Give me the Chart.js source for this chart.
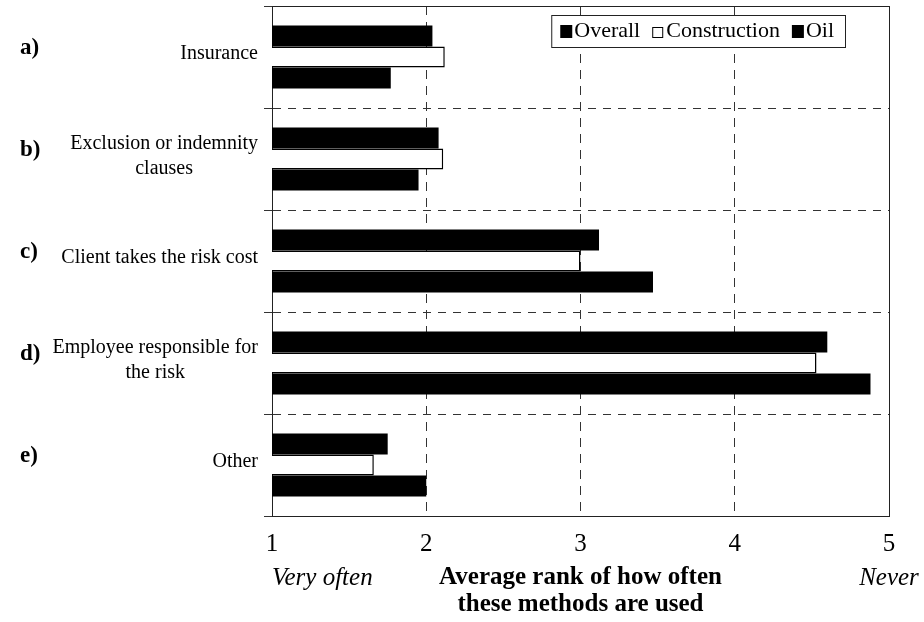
<!DOCTYPE html>
<html>
<head>
<meta charset="utf-8">
<title>Risk transfer methods</title>
<script src="https://cdn.jsdelivr.net/npm/chart.js@4.4.1/dist/chart.umd.min.js"></script>
<style>
    body { margin: 0; background: #fff; }
    #wrap { width: 924px; height: 622px; position: relative; }
</style>
</head>
<body>
<div id="wrap"><canvas id="rankChart"></canvas></div>
<script>
const letters = ['a)', 'b)', 'c)', 'd)', 'e)'];
const categories = [
    ['Insurance'],
    ['Exclusion or indemnity', 'clauses'],
    ['Client takes the risk cost'],
    ['Employee responsible for', 'the risk'],
    ['Other']
];
const overall = [2.04, 2.08, 3.12, 4.60, 1.75];
const construction = [2.12, 2.11, 3.00, 4.53, 1.66];
const oil = [1.77, 1.95, 3.47, 4.88, 2.00];
const seriesNames = ['Overall', 'Construction', 'Oil'];
const rankTicks = [1, 2, 3, 4, 5];
const endLabels = ['Very often', 'Never'];
const axisTitle = ['Average rank of how often', 'these methods are used'];

const serif = "'Liberation Serif', 'DejaVu Serif', serif";
Chart.defaults.font.family = serif;
Chart.defaults.color = '#000';

// category labels with their a) .. e) markers, multi-line labels centred on themselves
const sideLabels = {
    id: 'sideLabels',
    afterDraw(chart) {
        const ctx = chart.ctx;
        const y = chart.scales.y;
        const right = chart.chartArea.left - 14;
        ctx.save();
        ctx.fillStyle = '#000';
        ctx.textBaseline = 'middle';
        categories.forEach((lines, i) => {
            const cy = y.getPixelForValue(i);
            ctx.font = '20px ' + serif;
            const w = Math.max(...lines.map(l => ctx.measureText(l).width));
            const lh = 25;
            const top = cy - 3 - (lines.length - 1) * lh / 2;
            ctx.textAlign = 'center';
            lines.forEach((l, k) => ctx.fillText(l, right - w / 2, top + k * lh));
            ctx.font = 'bold 23px ' + serif;
            ctx.textAlign = 'left';
            ctx.fillText(letters[i], 20, cy - 9);
        });
        ctx.restore();
    }
};

// closes the plot frame and adds the scale end captions
const frameAndEnds = {
    id: 'frameAndEnds',
    afterDraw(chart) {
        const ctx = chart.ctx;
        const a = chart.chartArea;
        const x = chart.scales.x;
        ctx.save();
        ctx.strokeStyle = '#222';
        ctx.lineWidth = 1;
        ctx.beginPath();
        ctx.moveTo(a.left, a.top + 0.5);
        ctx.lineTo(a.right + 0.5, a.top + 0.5);
        ctx.lineTo(a.right + 0.5, a.bottom);
        ctx.stroke();

        ctx.fillStyle = '#000';
        ctx.font = 'italic 25px ' + serif;
        ctx.textBaseline = 'middle';
        ctx.textAlign = 'left';
        ctx.fillText(endLabels[0], x.getPixelForValue(1), 578);
        ctx.textAlign = 'center';
        ctx.fillText(endLabels[1], x.getPixelForValue(5), 578);
        ctx.restore();
    }
};

// boxed legend sitting inside the plot, top right
const boxLegend = {
    id: 'boxLegend',
    afterDraw(chart) {
        const ctx = chart.ctx;
        const a = chart.chartArea;
        ctx.save();
        ctx.font = '22px ' + serif;
        ctx.textBaseline = 'middle';
        ctx.textAlign = 'left';
        const box = 12, gap = 2, space = 12, padL = 9, padR = 11;
        const widths = seriesNames.map(n => ctx.measureText(n).width);
        let total = padL + padR;
        widths.forEach((w, i) => { total += box + gap + w + (i ? space : 0); });
        const right = a.right - 44;
        const left = right - total;
        const top = a.top + 9, h = 32;
        ctx.fillStyle = '#fff';
        ctx.fillRect(left, top, total, h);
        ctx.strokeStyle = '#222';
        ctx.lineWidth = 1;
        ctx.strokeRect(left + 0.5, top + 0.5, total, h);
        const cy = top + h / 2;
        let cx = left + padL;
        chart.data.datasets.forEach((ds, i) => {
            if (i) cx += space;
            if (ds.backgroundColor === '#fff') {
                ctx.fillStyle = '#fff';
                ctx.fillRect(cx, cy - 4, box - 1, box - 1);
                ctx.strokeStyle = '#000';
                ctx.strokeRect(cx + 0.5, cy - 4 + 0.5, box - 2, box - 2);
            } else {
                ctx.fillStyle = '#000';
                ctx.fillRect(cx, cy - 6, box, box + 1);
            }
            cx += box + gap;
            ctx.fillStyle = '#000';
            ctx.fillText(seriesNames[i], cx, cy);
            cx += widths[i];
        });
        ctx.restore();
    }
};

new Chart(document.getElementById('rankChart'), {
    type: 'bar',
    data: {
        labels: categories,
        datasets: [
            { label: seriesNames[0], data: overall, backgroundColor: '#000', borderWidth: 0 },
            { label: seriesNames[1], data: construction, backgroundColor: '#fff', borderColor: '#000', borderWidth: 1.5 },
            { label: seriesNames[2], data: oil, backgroundColor: '#000', borderWidth: 0 }
        ]
    },
    options: {
        indexAxis: 'y',
        responsive: true,
        maintainAspectRatio: false,
        animation: false,
        layout: { padding: { left: 264, right: 35, top: 6, bottom: 4 } },
        datasets: { bar: { categoryPercentage: 0.62, barPercentage: 1.0 } },
        plugins: {
            legend: { display: false },
            tooltip: { enabled: false }
        },
        scales: {
            x: {
                min: 1,
                max: 5,
                afterBuildTicks: (scale) => {
                    scale.ticks = rankTicks.map(v => ({ value: v }));
                },
                afterFit: (scale) => { scale.height = 102; },
                grid: { color: '#333', lineWidth: 1, drawTicks: false },
                border: { display: true, color: '#222', width: 1, dash: [9, 7] },
                ticks: { font: { size: 25 }, padding: 13, color: '#000' },
                title: {
                    display: true,
                    text: axisTitle,
                    font: { size: 25, weight: 'bold', lineHeight: 1.08 },
                    padding: { top: 0, bottom: 0 },
                    color: '#000'
                }
            },
            y: {
                grid: { color: '#333', lineWidth: 1, offset: true, tickLength: 8 },
                border: { display: true, color: '#222', width: 1, dash: [8, 7] },
                ticks: { display: false }
            }
        }
    },
    plugins: [sideLabels, frameAndEnds, boxLegend]
});
</script>
</body>
</html>
